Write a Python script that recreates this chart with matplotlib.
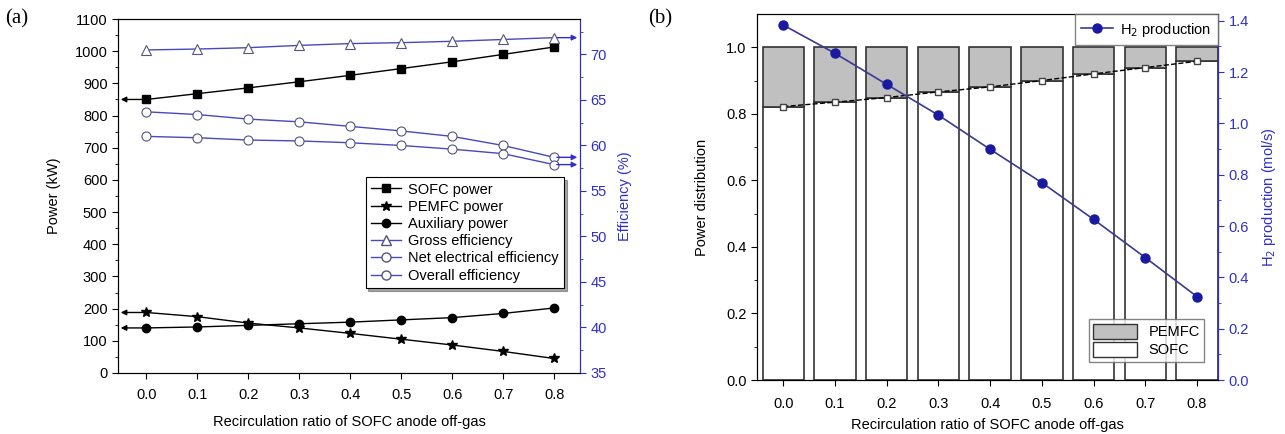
import numpy as np
import matplotlib.pyplot as plt
from matplotlib.patches import Patch
from matplotlib.lines import Line2D

plt.rcParams['font.family'] = ['Liberation Sans', 'DejaVu Sans']
plt.rcParams['font.size'] = 10.5

# data
ratio = [0.0, 0.1, 0.2, 0.3, 0.4, 0.5, 0.6, 0.7, 0.8]
sofc_power = [850, 868, 886, 905, 925, 946, 967, 990, 1013]
pemfc_power = [188, 175, 155, 140, 123, 105, 87, 67, 45]
aux_power = [140, 143, 148, 153, 158, 165, 172, 185, 202]
gross_eff = [70.5, 70.6, 70.75, 71.0, 71.2, 71.3, 71.45, 71.65, 71.85]
net_eff = [63.7, 63.4, 62.9, 62.6, 62.1, 61.6, 61.0, 60.0, 58.7]
overall_eff = [61.0, 60.85, 60.6, 60.5, 60.3, 60.0, 59.6, 59.1, 57.9]
sofc_share = [0.822, 0.835, 0.849, 0.866, 0.881, 0.900, 0.920, 0.939, 0.958]
h2_prod = [1.383, 1.273, 1.152, 1.032, 0.899, 0.769, 0.626, 0.477, 0.325]

blue = '#2f2fc8'
line_blue = '#4848c0'
xlabel = 'Recirculation ratio of SOFC anode off-gas'

fig = plt.figure(figsize=(12.85, 4.34), dpi=100)

# ---------- panel (a)
ax = fig.add_axes([0.0918, 0.1406, 0.3596, 0.8156])
ax2 = ax.twinx()
xl = (-0.056, 0.851)

ax.plot(ratio, sofc_power, '-', color='k', lw=1, marker='s', ms=5.5, mfc='k', mec='k')
ax.plot(ratio, pemfc_power, '-', color='k', lw=1, marker='*', ms=7, mfc='k', mec='k')
ax.plot(ratio, aux_power, '-', color='k', lw=1, marker='o', ms=6, mfc='k', mec='k')
ax2.plot(ratio, gross_eff, '-', color=line_blue, lw=1, marker='^', ms=6.5, mfc='white', mec='#555577', mew=0.8)
ax2.plot(ratio, net_eff, '-', color=line_blue, lw=1, marker='o', ms=6.5, mfc='white', mec='#555577', mew=0.8)
ax2.plot(ratio, overall_eff, '-', color=line_blue, lw=1, marker='o', ms=6.5, mfc='white', mec='#555577', mew=0.8)

for v in (sofc_power[0], pemfc_power[0], aux_power[0]):
    ax.annotate('', xy=(xl[0], v), xytext=(ratio[0], v),
                arrowprops=dict(arrowstyle='-|>', color='k', lw=1, mutation_scale=8))
for v in (gross_eff[-1], net_eff[-1], overall_eff[-1]):
    ax2.annotate('', xy=(xl[1], v), xytext=(ratio[-1], v),
                 arrowprops=dict(arrowstyle='-|>', color=blue, lw=1, mutation_scale=8))

ax.set_xlim(*xl)
ax.set_ylim(0, 1100)
ax2.set_ylim(35, 73.9)
ax.set_xticks(ratio)
ax.set_xticklabels(['%.1f' % r for r in ratio])
ax.set_yticks(np.arange(0, 1101, 100))
ax.set_yticks(np.arange(50, 1100, 100), minor=True)
ax2.set_yticks(np.arange(35, 71, 5))
ax2.set_yticks(np.arange(37.5, 73, 5), minor=True)
ax.set_ylabel('Power (kW)', labelpad=10)
ax.set_xlabel(xlabel, labelpad=9)
ax2.set_ylabel('Efficiency (%)', color=blue, labelpad=8)
ax2.spines['right'].set_color(blue)
ax2.tick_params(axis='y', which='both', colors=blue)
ax.tick_params(which='major', length=4)
ax.tick_params(axis='x', pad=7)
ax.tick_params(which='minor', length=2)
ax2.tick_params(which='major', length=4)
ax2.tick_params(which='minor', length=2)

handles = [
    Line2D([], [], color='k', lw=1, marker='s', ms=5.5, mfc='k'),
    Line2D([], [], color='k', lw=1, marker='*', ms=7, mfc='k'),
    Line2D([], [], color='k', lw=1, marker='o', ms=6, mfc='k'),
    Line2D([], [], color=line_blue, lw=1, marker='^', ms=6.5, mfc='white', mec='#555577'),
    Line2D([], [], color=line_blue, lw=1, marker='o', ms=6.5, mfc='white', mec='#555577'),
    Line2D([], [], color=line_blue, lw=1, marker='o', ms=6.5, mfc='white', mec='#555577'),
]
labels = ['SOFC power', 'PEMFC power', 'Auxiliary power', 'Gross efficiency',
          'Net electrical efficiency', 'Overall efficiency']
leg = ax2.legend(handles, labels, loc='upper left', bbox_to_anchor=(0.52, 0.575),
                 frameon=True, fancybox=False, shadow=True, edgecolor='k',
                 fontsize=10.5, handlelength=2.0, borderpad=0.4, labelspacing=0.22,
                 handletextpad=0.5)
leg.get_frame().set_linewidth(0.8)

fig.text(0.004, 0.945, '(a)', family='Liberation Serif', fontsize=15)

# ---------- panel (b)
bx = fig.add_axes([0.589, 0.1244, 0.359, 0.8433])
bx2 = bx.twinx()
pemfc_share = [1 - s for s in sofc_share]
bx.bar(ratio, sofc_share, width=0.08, color='white', edgecolor='#333333', lw=1.2)
bx.bar(ratio, pemfc_share, width=0.08, bottom=sofc_share, color='#c0c0c0', edgecolor='#333333', lw=1.2)
bx.plot(ratio, sofc_share, '--', color='k', lw=1, marker='s', ms=5, mfc='white', mec='#444444')
bx2.plot(ratio, h2_prod, '-', color='#3a3a90', lw=1.2, marker='o', ms=6.5, mfc='#1a1aa0', mec='#1a1aa0',
         label='H$_2$ production')

bx.set_xlim(-0.051, 0.841)
bx.set_ylim(0, 1.1)
bx2.set_ylim(0, 1.426)
bx.set_xticks(ratio)
bx.set_xticklabels(['%.1f' % r for r in ratio])
bx.set_yticks(np.arange(0, 1.01, 0.2))
bx.set_yticks(np.arange(0.1, 1.1, 0.2), minor=True)
bx2.set_yticks(np.arange(0, 1.41, 0.2))
bx2.set_yticks(np.arange(0.1, 1.41, 0.2), minor=True)
bx.set_ylabel('Power distribution', labelpad=12)
bx.set_xlabel(xlabel, labelpad=5)
bx2.set_ylabel('H$_2$ production (mol/s)', color=blue, labelpad=8)
bx2.spines['right'].set_color(blue)
bx2.tick_params(axis='y', which='both', colors=blue)
bx.tick_params(which='major', length=4)
bx.tick_params(axis='x', pad=8)
bx.tick_params(which='minor', length=2)
bx2.tick_params(which='major', length=4)
bx2.tick_params(which='minor', length=2)

hb = [Patch(facecolor='#c0c0c0', edgecolor='#333333'), Patch(facecolor='white', edgecolor='#333333')]
lg1 = bx.legend(hb, ['PEMFC', 'SOFC'], loc='lower right', bbox_to_anchor=(0.985, 0.03),
                fancybox=False, edgecolor='#666666', fontsize=10.5, handlelength=3.0,
                handleheight=1.2, borderpad=0.3, labelspacing=0.2)
lg2 = bx2.legend(loc='upper right', fancybox=False, edgecolor='#666666', fontsize=10.5,
                 borderpad=0.45, borderaxespad=0.0, handlelength=2.2, handletextpad=0.5)

fig.text(0.504, 0.945, '(b)', family='Liberation Serif', fontsize=15)

fig.savefig('out.png', dpi=100)
